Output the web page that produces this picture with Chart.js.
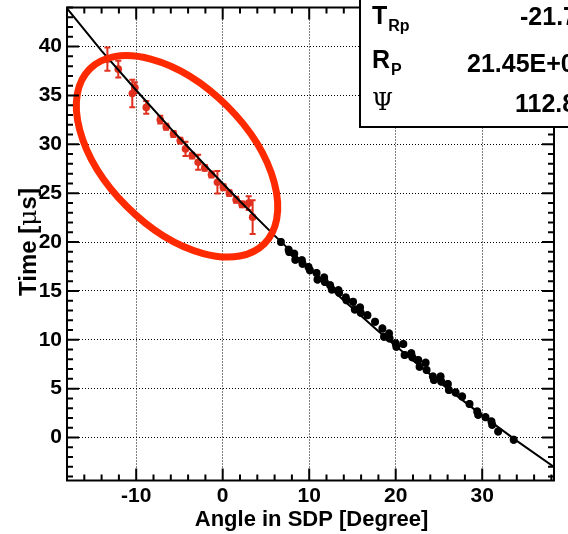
<!DOCTYPE html>
<html>
<head>
<meta charset="utf-8">
<script src="https://cdn.jsdelivr.net/npm/chart.js@4.4.1/dist/chart.umd.min.js"></script>
<style>
  body { margin: 0; background: #fff; }
  #fit_chart { display: block; }
</style>
</head>
<body>
<canvas id="fit_chart" width="568" height="534"></canvas>
<script>
// pixels inside the selected (red) region
var redAngle = [-13.33, -12.07, -10.45, -10.15, -8.84, -7.22, -6.53, -5.69, -4.91, -4.30,
                -3.53, -2.84, -2.08, -1.30, -0.61, 0.08, 0.77, 1.55, 2.24, 3.00, 3.46];
var redTime  = [38.71, 37.69, 35.20, 35.80, 33.78, 32.52, 31.80, 31.06, 30.38, 29.53,
                28.85, 28.16, 27.59, 26.91, 26.12, 25.61, 25.00, 24.33, 23.85, 23.98, 22.55];
var redErr   = [1.19, 0.85, 1.40, 0.55, 0.65, 0.40, 0.30, 0.30, 0.30, 0.73,
                0.30, 0.77, 0.30, 0.30, 1.16, 0.30, 0.30, 0.30, 0.30, 0.71, 1.73];

// remaining pixels along the track
var blackAngle = [6.73, 7.62, 7.69, 8.27, 8.39, 9.15, 9.23, 9.92, 10.08, 10.85,
                  10.96, 11.73, 11.81, 12.42, 12.61, 13.38, 13.46, 14.23, 14.31, 15.07,
                  15.27, 15.88, 15.96, 16.73, 17.61, 18.46, 18.65, 19.23, 19.30, 20.00,
                  20.07, 20.88, 21.03, 21.80, 21.92, 22.61, 22.76, 23.46, 23.57, 24.30,
                  24.42, 25.19, 25.26, 26.03, 26.15, 26.92, 27.68, 28.53, 29.42, 29.53,
                  30.38, 31.07, 31.15, 31.84, 33.64];
var blackTime  = [20.00, 19.22, 18.98, 18.81, 18.20, 18.13, 17.79, 17.45, 17.11, 16.84,
                  16.16, 16.36, 15.92, 15.58, 15.14, 15.07, 14.80, 14.32, 14.05, 13.88,
                  13.10, 13.30, 12.76, 12.52, 11.84, 11.16, 10.31, 10.65, 10.14, 9.63,
                  9.29, 9.56, 8.44, 8.61, 8.20, 7.93, 7.25, 7.66, 6.91, 6.23,
                  5.89, 6.23, 5.72, 5.48, 4.87, 4.60, 4.19, 3.44, 2.66, 2.32,
                  2.08, 1.64, 1.30, 0.62, -0.23];
var blackErr = 0.4;

// fitted time-angle curve
var fitAngle = [-18, -14, -10, -6, -2, 2, 6, 10, 14, 18, 22, 26, 30, 34, 38.3];
var fitTime  = [43.9, 39.57, 35.53, 31.61, 27.83, 24.18, 20.66, 17.27, 14.01, 10.87,
                7.87, 5.00, 2.26, -0.35, -3.01];

var xTicks = [-10, 0, 10, 20, 30];
var yTicks = [0, 5, 10, 15, 20, 25, 30, 35, 40];

var fitNames  = ['T', 'R', '\u03A8'];
var fitSubs   = ['Rp', 'P', ''];
var fitValues = ['-21.76', '21.45E+03', '112.87'];

var FONT = '"Liberation Sans", Arial, Helvetica, sans-serif';

function pts(xs, ys) {
  return xs.map(function (x, i) { return { x: x, y: ys[i] }; });
}

function drawBars(chart, xs, ys, errs, color, width, cap) {
  var c = chart.ctx, sx = chart.scales.x, sy = chart.scales.y;
  c.save();
  c.strokeStyle = color;
  c.lineWidth = width;
  xs.forEach(function (x, i) {
    var e = Array.isArray(errs) ? errs[i] : errs;
    var px = sx.getPixelForValue(x);
    var top = sy.getPixelForValue(ys[i] + e), bot = sy.getPixelForValue(ys[i] - e);
    c.beginPath();
    c.moveTo(px, top); c.lineTo(px, bot);
    if (cap) {
      c.moveTo(px - cap, top); c.lineTo(px + cap, top);
      c.moveTo(px - cap, bot); c.lineTo(px + cap, bot);
    }
    c.stroke();
  });
  c.restore();
}

var rootFrame = {
  id: 'rootFrame',
  beforeDatasetsDraw: function (chart) {
    drawBars(chart, blackAngle, blackTime, blackErr, '#000', 3, 0);
    drawBars(chart, redAngle, redTime, redErr, '#e0301e', 2, 3);
  },
  afterDraw: function (chart) {
    var c = chart.ctx, a = chart.chartArea, sx = chart.scales.x, sy = chart.scales.y;
    c.save();

    // selection ellipse
    var ex = sx.getPixelForValue(-5.28), ey = sy.getPixelForValue(28.77);
    c.strokeStyle = '#ff2a00';
    c.lineWidth = 7;
    c.beginPath();
    c.ellipse(ex, ey, 123.5, 71, Math.PI / 4, 0, 2 * Math.PI);
    c.stroke();

    // frame and inward ticks
    c.strokeStyle = '#000';
    c.lineWidth = 2;
    c.strokeRect(a.left, a.top, a.right - a.left, a.bottom - a.top);
    c.beginPath();
    var v, p, len;
    for (v = -18; v <= 38.3; v += 2) {
      p = sx.getPixelForValue(v);
      len = (v % 10 === 0) ? 12 : 6;
      c.moveTo(p, a.bottom); c.lineTo(p, a.bottom - len);
      c.moveTo(p, a.top); c.lineTo(p, a.top + len);
    }
    for (v = -4; v <= 44; v += 1) {
      p = sy.getPixelForValue(v);
      len = (v % 5 === 0) ? 12 : 6;
      c.moveTo(a.left, p); c.lineTo(a.left + len, p);
      c.moveTo(a.right, p); c.lineTo(a.right - len, p);
    }
    c.stroke();

    // axis titles
    c.fillStyle = '#000';
    c.textBaseline = 'alphabetic';
    c.font = 'bold 22px ' + FONT;
    c.textAlign = 'center';
    c.fillText('Angle in SDP [Degree]', (a.left + a.right) / 2 + 1, 526);

    c.save();
    c.translate(36, 242);
    c.rotate(-Math.PI / 2);
    var p1 = 'Time [', p2 = '\u03BC', p3 = 's]';
    c.font = 'bold 24px ' + FONT;
    var w1 = c.measureText(p1).width, w3 = c.measureText(p3).width;
    c.font = '25px "DejaVu Serif", serif';
    var w2 = c.measureText(p2).width;
    var x0 = -(w1 + w2 + w3) / 2;
    c.textAlign = 'left';
    c.font = 'bold 24px ' + FONT;
    c.fillText(p1, x0, 0);
    c.font = '25px "DejaVu Serif", serif';
    c.fillText(p2, x0 + w1, 0);
    c.font = 'bold 24px ' + FONT;
    c.fillText(p3, x0 + w1 + w2, 0);
    c.restore();

    // fit parameter box
    c.fillStyle = '#fff';
    c.fillRect(360, -4, 220, 131);
    c.strokeRect(360, -4, 220, 131);
    c.fillStyle = '#000';
    c.textAlign = 'left';
    var rows = [24, 68, 110];
    fitNames.forEach(function (n, i) {
      if (n === '\u03A8') {
        c.font = '24px "DejaVu Serif", serif';
      } else {
        c.font = 'bold 25px ' + FONT;
      }
      c.fillText(n, 372, rows[i]);
      var w = c.measureText(n).width;
      if (fitSubs[i]) {
        c.font = 'bold 16px ' + FONT;
        c.fillText(fitSubs[i], 372 + w + 1, rows[i] + 7);
      }
      c.font = 'bold 25px ' + FONT;
      c.fillText(fitValues[i], [520, 467, 515][i], rows[i] + [1, 4, 2][i]);
    });
    c.restore();
  }
};

var tickFont = { family: FONT, size: 21, weight: 'bold' };

var chart = new Chart(document.getElementById('fit_chart'), {
  type: 'scatter',
  data: {
    datasets: [{
      label: 'fit',
      data: pts(fitAngle, fitTime),
      showLine: true,
      borderColor: '#000',
      borderWidth: 2,
      pointRadius: 0,
      tension: 0
    }, {
      label: 'track',
      data: pts(blackAngle, blackTime),
      backgroundColor: '#000',
      borderColor: '#000',
      borderWidth: 0,
      pointRadius: 4
    }, {
      label: 'selected',
      data: pts(redAngle, redTime),
      backgroundColor: '#e0301e',
      borderColor: '#e0301e',
      borderWidth: 0,
      pointRadius: 3.8
    }]
  },
  options: {
    responsive: false,
    animation: false,
    devicePixelRatio: 1,
    layout: { padding: { left: 0, right: 14, top: 7.5, bottom: 0 } },
    plugins: { legend: { display: false }, tooltip: { enabled: false } },
    scales: {
      x: {
        type: 'linear', min: -18, max: 38.3,
        afterBuildTicks: function (s) { s.ticks = xTicks.map(function (v) { return { value: v }; }); },
        afterFit: function (s) { s.height = 53.5; s.paddingLeft = 0; s.paddingRight = 0; },
        grid: { color: '#000', lineWidth: 1, drawTicks: false },
        border: { display: false, dash: [1, 2] },
        ticks: { font: tickFont, color: '#000', padding: 3, maxRotation: 0 }
      },
      y: {
        type: 'linear', min: -4.4, max: 44,
        afterBuildTicks: function (s) { s.ticks = yTicks.map(function (v) { return { value: v }; }); },
        afterFit: function (s) { s.width = 67; s.paddingTop = 0; s.paddingBottom = 0; },
        grid: { color: '#000', lineWidth: 1, drawTicks: false },
        border: { display: false, dash: [1, 2] },
        ticks: { font: tickFont, color: '#000', padding: 5 }
      }
    }
  },
  plugins: [rootFrame]
});
</script>
</body>
</html>
